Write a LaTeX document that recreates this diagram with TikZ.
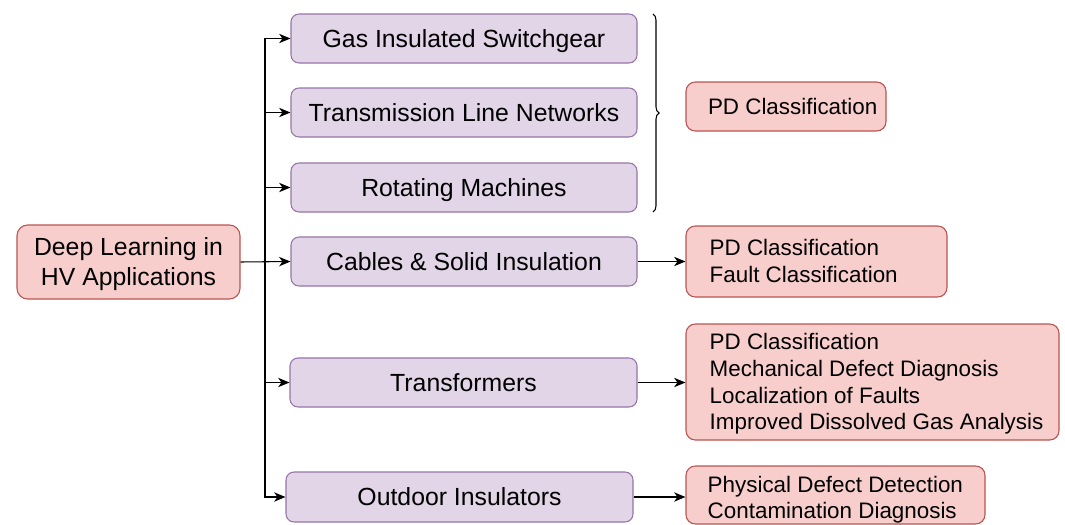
\documentclass[tikz,border=0pt]{standalone}
\usepackage{fontspec}
\setmainfont{Liberation Sans}
\usetikzlibrary{arrows.meta,decorations.pathreplacing}
\definecolor{pfill}{HTML}{E1D5E7}
\definecolor{pdraw}{HTML}{9673A6}
\definecolor{rfill}{HTML}{F8CECC}
\definecolor{rdraw}{HTML}{B85450}
\tikzset{
  pbox/.style={draw=pdraw, fill=pfill, line width=0.8pt, rounded corners=6pt,
    minimum height=49*0.75pt, minimum width=346*0.75pt, inner sep=0pt,
    text height=13.2pt, text depth=0pt,
    font=\fontsize{18.6}{22}\selectfont},
  rbox/.style={draw=rdraw, fill=rfill, line width=0.8pt, rounded corners=7pt, inner sep=0pt},
  rtext/.style={anchor=west, inner sep=0pt, align=left, font=\fontsize{16.8}{20}\selectfont},
  mainbox/.style={draw=rdraw, fill=rfill, line width=0.8pt, rounded corners=8pt,
    minimum height=74*0.75pt, minimum width=223*0.75pt, inner sep=0pt},
  maintext/.style={inner sep=0pt, align=center, font=\fontsize{18.6}{22.5}\selectfont},
  conn/.style={line width=0.8pt, -{Stealth[length=8.5pt,width=7pt,inset=2.5pt]}},
}
\begin{document}
\begin{tikzpicture}[x=0.75pt,y=-0.75pt]
\useasboundingbox (0,0) rectangle (1065,525);
\node[mainbox] (main) at (128.5,262) {};
\node[maintext] (maint) at (128.5,264.5) {Deep Learning in\\HV Applications};
\node[pbox] (gis) at (464,38.5) {Gas Insulated Switchgear};
\node[pbox] (tln) at (464,112.5) {Transmission Line Networks};
\node[pbox] (rm) at (464,187.5) {Rotating Machines};
\node[pbox] (cab) at (464,261.5) {Cables \& Solid Insulation};
\node[pbox, minimum width=347*0.75pt] (tra) at (463.5,382.5) {Transformers};
\node[pbox, minimum width=347*0.75pt, minimum height=50*0.75pt] (out) at (459.5,497) {Outdoor Insulators};

\node[rbox, minimum width=200*0.75pt, minimum height=49*0.75pt, font=\fontsize{16.8}{20}\selectfont, text height=12pt, text depth=0pt] (pd) at (786,106.5) {\hspace*{10pt}PD Classification};

\node[rbox, minimum width=261*0.75pt, minimum height=71*0.75pt] (cabo) at (816.5,261.5) {};
\node[rtext] (cabot) at ([xshift=24*0.75pt,yshift=0.6pt]cabo.west) {PD Classification\\Fault Classification};

\node[rbox, minimum width=373*0.75pt, minimum height=116*0.75pt] (trao) at (872.5,382) {};
\node[rtext] (traot) at ([xshift=24*0.75pt,yshift=-1.5pt]trao.west) {PD Classification\\Mechanical Defect Diagnosis\\Localization of Faults\\Improved Dissolved Gas Analysis};

\node[rbox, minimum width=299*0.75pt, minimum height=58*0.75pt] (outo) at (835.5,495) {};
\node[rtext] (outot) at ([xshift=22*0.75pt,yshift=-3.5pt]outo.west) {Physical Defect Detection\\Contamination Diagnosis};

\coordinate (trunk) at (265,262);
\draw[conn] (main.east) -- (cab.west);
\draw[conn] (trunk) |- (gis.west);
\draw[conn] (trunk) |- (tln.west);
\draw[conn] (trunk) |- (rm.west);
\draw[conn] (trunk) |- (tra.west);
\draw[conn] (trunk) |- (out.west);

\draw[conn] (cab.east) -- (cabo.west |- cab.east);
\draw[conn] (tra.east) -- (trao.west |- tra.east);
\draw[conn] (out.east) -- (outo.west |- out.east);

\draw[line width=0.8pt, decorate, decoration={brace, amplitude=4.5pt}] (653,14) -- (653,212);
\end{tikzpicture}
\end{document}
